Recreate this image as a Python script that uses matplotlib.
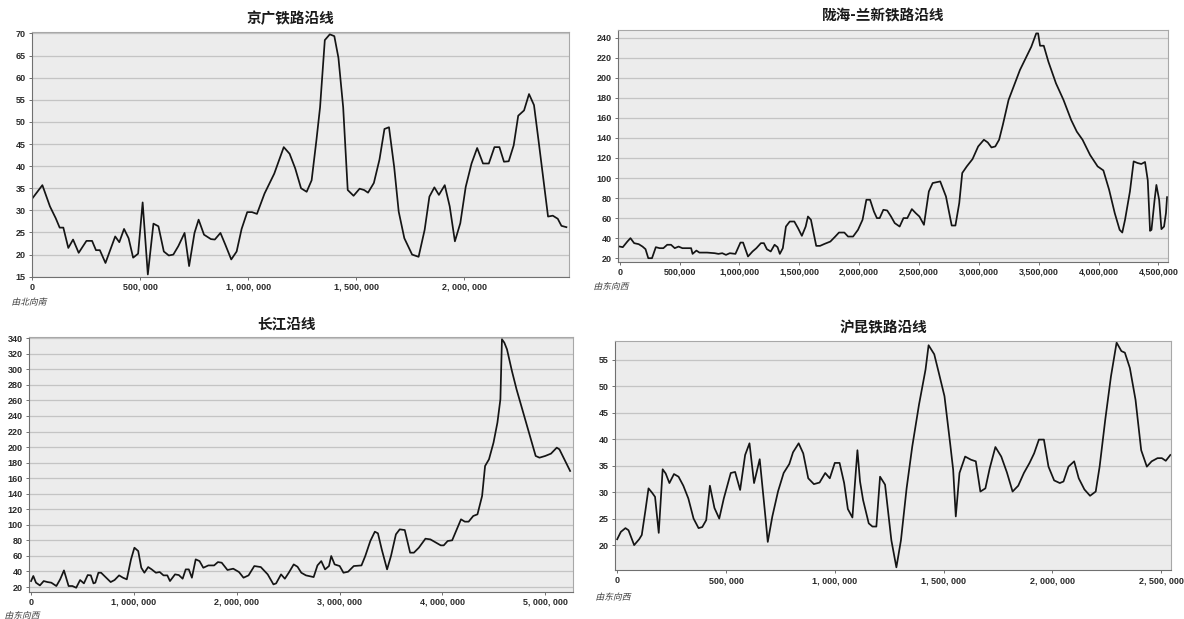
import numpy as np
import matplotlib
matplotlib.use('Agg')
import matplotlib.pyplot as plt
from matplotlib.ticker import FuncFormatter, MultipleLocator
from matplotlib.textpath import TextPath
from matplotlib.patches import PathPatch
from matplotlib.font_manager import FontProperties
from matplotlib.transforms import Affine2D, IdentityTransform

plt.rcParams['font.family'] = ['Noto Sans CJK SC', 'DejaVu Sans']

# 京广铁路沿线 (km along line, value)
jg_km = [0, 48, 83, 110, 128, 145, 168, 190, 216, 252, 278, 296, 314, 340, 385, 404, 426, 447, 468, 491,
         512, 536, 562, 585, 610, 633, 654, 677, 706, 727, 752, 771, 796, 828, 846, 872, 895, 922, 947, 970,
         996, 1018, 1041, 1076, 1121, 1165, 1192, 1218, 1245, 1271, 1294, 1316, 1333, 1355, 1378, 1399, 1418, 1440, 1461, 1488,
         1516, 1537, 1555, 1582, 1608, 1631, 1652, 1676, 1697, 1723, 1759, 1789, 1817, 1839, 1862, 1883, 1910, 1933, 1957, 1982,
         2007, 2034, 2060, 2087, 2114, 2140, 2163, 2184, 2206, 2229, 2250, 2277, 2300, 2323, 2344, 2365, 2388, 2410, 2433, 2450, 2473]
jg_val = [32.6, 35.7, 30.9, 28.2, 26.1, 26.1, 21.5, 23.4, 20.4, 23.1, 23.1, 21.0, 21.0, 18.1, 24.1, 22.8, 25.8, 23.7, 19.3, 20.2,
          31.8, 15.5, 27.0, 26.4, 20.7, 19.8, 20.0, 21.9, 24.9, 17.4, 24.9, 27.9, 24.5, 23.5, 23.4, 24.9, 22.2, 18.9, 20.7, 25.8,
          29.6, 29.6, 29.2, 33.8, 38.3, 44.3, 42.8, 39.5, 35.0, 34.2, 36.8, 45.8, 53.3, 68.5, 69.8, 69.4, 64.5, 53.3, 34.6, 33.3,
          34.9, 34.6, 34.0, 36.2, 41.5, 48.4, 48.8, 39.8, 29.7, 23.7, 20.0, 19.5, 25.6, 33.1, 35.2, 33.5, 35.7, 30.9, 23.0, 27.1,
          35.3, 40.6, 44.1, 40.6, 40.6, 44.3, 44.3, 41.0, 41.1, 44.7, 51.4, 52.6, 56.3, 53.8, 45.8, 37.6, 28.6, 28.8, 28.1, 26.5, 26.2]

# 陇海-兰新铁路沿线
lh_km = [0, 25, 63, 89, 120, 158, 190, 215, 238, 269, 301, 333, 364, 396, 428, 459, 491, 523, 564, 596,
         608, 640, 665, 729, 792, 824, 856, 887, 919, 966, 1008, 1030, 1071, 1109, 1141, 1179, 1204, 1229, 1261, 1293,
         1318, 1337, 1362, 1388, 1420, 1458, 1489, 1521, 1553, 1572, 1597, 1622, 1641, 1673, 1711, 1759, 1800, 1831, 1876, 1907,
         1949, 1990, 2028, 2060, 2091, 2123, 2148, 2171, 2202, 2234, 2266, 2297, 2338, 2370, 2402, 2440, 2472, 2503, 2541, 2582,
         2614, 2677, 2725, 2773, 2804, 2836, 2861, 2899, 2947, 2994, 3042, 3074, 3105, 3137, 3169, 3200, 3248, 3295, 3343, 3390,
         3438, 3479, 3495, 3511, 3542, 3581, 3644, 3707, 3771, 3818, 3866, 3929, 3992, 4040, 4088, 4135, 4176, 4198, 4221, 4262,
         4293, 4325, 4357, 4388, 4411, 4430, 4442, 4468, 4483, 4506, 4525, 4547, 4563, 4572]
lh_val = [31.6, 31, 36.6, 40, 35, 34, 31.6, 29, 20, 20, 31, 30, 30, 33.4, 33.4, 30, 31.6, 30, 30, 30,
          24.3, 27.6, 25.6, 25.6, 25, 24.3, 25, 23.3, 25, 24.3, 35.6, 35.6, 21.7, 26.7, 30, 35, 35, 29, 26.7, 33.4,
          31, 24.3, 30, 51.6, 56.6, 56.6, 50, 42.3, 51.6, 61.6, 58.3, 43.3, 32.3, 32.3, 34.3, 36.6, 41.6, 45.6, 45.6, 41.6,
          41.6, 48.3, 58.3, 78.3, 78.3, 66.6, 60, 60, 68.3, 67.6, 61.6, 55, 51.6, 60, 60, 69, 65, 61.6, 53.3, 86.6,
          95, 96.6, 81.6, 52.6, 52.6, 75, 105, 111.6, 118.9, 131.5, 138.2, 135.5, 130.5, 131.5, 138.2, 153, 177.9, 192.8, 207.8, 219.4,
          231, 244.3, 244.3, 232, 232, 216, 194.5, 177.9, 157.9, 146.3, 138.2, 123, 111.6, 107.6, 88.3, 65, 48.3, 45.6, 58.3, 86.6,
          116.6, 115, 114, 116, 97.7, 47.3, 48.3, 78.3, 93.1, 78.3, 49, 51.6, 65, 80.9]

# 长江沿线
cj_km = [0, 22, 48, 86, 123, 160, 197, 246, 283, 320, 365, 402, 439, 477, 514, 551, 581, 607, 625, 655,
         681, 730, 774, 812, 856, 894, 931, 972, 1005, 1042, 1072, 1102, 1139, 1173, 1214, 1251, 1288, 1325, 1351, 1400,
         1437, 1474, 1504, 1534, 1564, 1601, 1638, 1675, 1724, 1780, 1817, 1854, 1910, 1966, 2022, 2066, 2115, 2171, 2234, 2301,
         2357, 2383, 2431, 2468, 2506, 2554, 2591, 2628, 2673, 2748, 2785, 2822, 2859, 2897, 2919, 2952, 3001, 3038, 3083, 3138,
         3213, 3250, 3299, 3343, 3373, 3410, 3462, 3500, 3548, 3585, 3634, 3686, 3723, 3771, 3835, 3883, 3939, 3984, 4013, 4051,
         4095, 4133, 4181, 4218, 4255, 4300, 4341, 4386, 4415, 4453, 4497, 4535, 4564, 4579, 4602, 4628, 4676, 4721, 4758, 4814,
         4870, 4907, 4944, 5000, 5056, 5112, 5138, 5186, 5242]
cj_val = [27.7, 34.2, 25.6, 22.1, 27.7, 26.4, 25.6, 21.3, 29.9, 41.4, 21.3, 21.3, 19.1, 29, 24.7, 35.4, 35, 24.7, 25.6, 38.4,
          38.4, 32, 26.4, 29, 35, 32, 29.9, 55.6, 70.6, 66.3, 44.8, 38.4, 45.7, 42.7, 38.4, 39.3, 35, 35, 27.7, 36.3,
          35.4, 30.7, 42.7, 42.7, 32, 55.6, 53.4, 44.8, 47.8, 47.8, 52.1, 51.3, 41.9, 43.6, 39.3, 32, 35, 47, 45.7, 36.3,
          23.4, 24.7, 36.3, 30.7, 38.4, 49.1, 46.1, 38.4, 35, 32.8, 47.8, 53.4, 42.7, 47, 59.9, 49.1, 47, 38.4, 39.7, 47,
          47.8, 59.9, 79.2, 91.2, 89.1, 68.5, 42.7, 59.9, 87.8, 94.2, 93.3, 64.2, 64.2, 70.6, 82.2, 81.3, 77, 73.6, 73.6, 79.2,
          80.1, 92.1, 107.1, 104.1, 104.1, 111.4, 113.5, 137.1, 175.7, 184.3, 205.7, 231.5, 261.5, 338.7, 334.4, 325.8, 297.9, 274.3, 257.2, 231.5,
          205.7, 188.6, 186.4, 188.6, 191.6, 199.3, 197.1, 184.3, 169.3]

# 沪昆铁路沿线
hk_km = [0, 17, 38, 52, 78, 101, 113, 130, 144, 160, 174, 191, 209, 223, 240, 261, 282, 304, 327, 351,
         374, 391, 409, 426, 447, 469, 490, 522, 542, 565, 588, 608, 629, 655, 681, 692, 713, 739, 765, 791,
         808, 834, 855, 878, 904, 930, 956, 977, 1000, 1022, 1043, 1060, 1081, 1104, 1116, 1130, 1156, 1173, 1191, 1208,
         1231, 1260, 1283, 1304, 1330, 1356, 1387, 1417, 1431, 1457, 1478, 1504, 1530, 1544, 1556, 1573, 1599, 1626, 1648, 1669,
         1692, 1712, 1738, 1765, 1791, 1817, 1843, 1869, 1895, 1916, 1938, 1961, 1982, 2008, 2034, 2051, 2074, 2100, 2121, 2147,
         2173, 2199, 2217, 2243, 2269, 2295, 2317, 2333, 2356, 2382, 2408, 2434, 2456, 2483, 2503, 2521, 2542]
hk_val = [21.1, 22.5, 23.2, 22.8, 20, 21.1, 21.9, 26.6, 30.7, 29.9, 29.1, 22.3, 34.3, 33.5, 31.7, 33.4, 32.9, 31.2, 28.8, 25,
          23.2, 23.4, 24.7, 31.2, 27, 25, 28.8, 33.6, 33.8, 30.4, 37, 39.2, 31.7, 36.2, 25.4, 20.6, 25.4, 30.1, 33.6, 35.3,
          37.5, 39.2, 37.3, 32.6, 31.5, 31.8, 33.6, 32.6, 35.5, 35.5, 31.7, 26.8, 25.2, 37.9, 32, 28.5, 24.1, 23.5, 23.5, 32.9,
          31.4, 20.9, 15.8, 20.9, 30.7, 38.6, 46.5, 53.1, 57.7, 56, 52.5, 48.1, 39.2, 34.2, 25.4, 33.6, 36.7, 36.1, 35.8, 30.1,
          30.7, 34.5, 38.5, 36.7, 33.7, 30.1, 31.2, 33.6, 35.5, 37.3, 39.9, 39.9, 34.8, 32.2, 31.7, 32, 34.8, 35.8, 32.6, 30.5,
          29.3, 30.1, 34.8, 43.7, 51.8, 58.2, 56.6, 56.3, 53.4, 47.4, 37.9, 34.8, 35.8, 36.4, 36.4, 35.9, 37]

titles = ['京广铁路沿线', '陇海-兰新铁路沿线', '长江沿线', '沪昆铁路沿线']
notes = ['由北向南', '由东向西', '由东向西', '由东向西']

W, H = 1184, 619
fig = plt.figure(figsize=(W / 100, H / 100), dpi=100)


def px_axes(l, t, r, b):
    return fig.add_axes([l / W, 1 - b / H, (r - l) / W, (b - t) / H])


def slanted(s, x, y, size=6.3):
    # synthetic italic for the CJK note under each x axis
    fp = FontProperties(family='Noto Sans CJK SC', size=size)
    tp = TextPath((0, 0), s, prop=fp)
    bb = tp.get_extents()
    tr = (Affine2D().translate(-(bb.x0 + bb.x1) / 2, -(bb.y0 + bb.y1) / 2)
          .skew_deg(14, 0).scale(fig.dpi / 72).translate(x, H - y))
    fig.add_artist(PathPatch(tr.transform_path(tp), transform=IdentityTransform(),
                             fc='#3a3a3a', ec='none'))


def style(ax, xlim, ylim, xstep, ystep, sep):
    ax.set_facecolor('#ececec')
    ax.set_xlim(*xlim)
    ax.set_ylim(*ylim)
    ax.xaxis.set_major_locator(MultipleLocator(xstep))
    ax.yaxis.set_major_locator(MultipleLocator(ystep))
    ax.xaxis.set_major_formatter(FuncFormatter(lambda v, p: '{:,}'.format(int(round(v))).replace(',', sep)))
    ax.yaxis.set_major_formatter(FuncFormatter(lambda v, p: '%d' % v))
    ax.grid(axis='y', color='#c4c4c4', lw=0.9)
    ax.set_axisbelow(True)
    for sp in ax.spines.values():
        sp.set_color('#a8a8a8')
        sp.set_linewidth(0.8)
    ax.spines['left'].set_color('#707070')
    ax.spines['bottom'].set_color('#707070')
    ax.tick_params(length=2.5, width=0.7, color='#707070', labelsize=6.5, pad=2,
                   labelcolor='#2a2a2a', labelfontfamily='Liberation Sans')
    for lab in ax.get_xticklabels() + ax.get_yticklabels():
        lab.set_fontweight('bold')


panels = [
    (jg_km, jg_val, (32, 31.7, 569, 276.7), (0, 2485000), (15, 70.4), 500000, 5, ', ', (290, 18), (30, 301.5)),
    (lh_km, lh_val, (618, 29.7, 1168, 261.7), (-15000, 4580000), (16.5, 248), 500000, 20, ',', (883, 15), (612, 286)),
    (cj_km, cj_val, (29, 336.7, 573, 591.7), (-20000, 5270000), (14, 342), 1000000, 20, ', ', (286, 323), (23, 615)),
    (hk_km, hk_val, (615, 341, 1171, 570), (-10000, 2545000), (15.3, 58.5), 500000, 5, ', ', (883, 327.5), (614, 596.5)),
]

for i, (km, val, box, xlim, ylim, xstep, ystep, sep, tpos, npos) in enumerate(panels):
    ax = px_axes(*box)
    ax.plot(np.array(km) * 1000, val, color='#151515', lw=1.25, solid_joinstyle='round')
    style(ax, xlim, ylim, xstep, ystep, sep)
    fig.text(tpos[0] / W, 1 - tpos[1] / H, titles[i], ha='center', va='center',
             fontsize=10.5, fontweight='bold', color='#1a1a1a')
    slanted(notes[i], *npos)

fig.savefig('out.png', dpi=100, facecolor='white')
